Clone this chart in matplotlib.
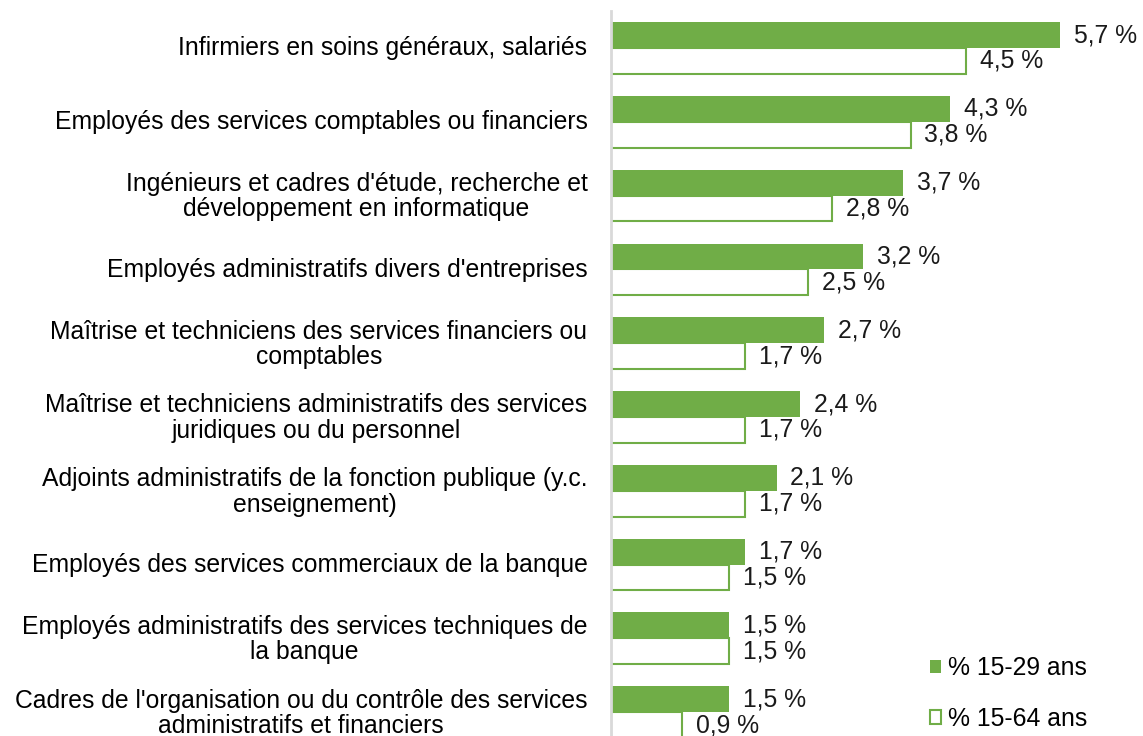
import numpy as np
import matplotlib.pyplot as plt
import matplotlib.transforms as mtransforms

plt.rcParams['font.family'] = ['Liberation Sans', 'DejaVu Sans']

categories = [
    "Infirmiers en soins généraux, salariés",
    "Employés des services comptables ou financiers",
    "Ingénieurs et cadres d'étude, recherche et\ndéveloppement en informatique",
    "Employés administratifs divers d'entreprises",
    "Maîtrise et techniciens des services financiers ou\ncomptables",
    "Maîtrise et techniciens administratifs des services\njuridiques ou du personnel",
    "Adjoints administratifs de la fonction publique (y.c.\nenseignement)",
    "Employés des services commerciaux de la banque",
    "Employés administratifs des services techniques de\nla banque",
    "Cadres de l'organisation ou du contrôle des services\nadministratifs et financiers",
]
young = [5.7, 4.3, 3.7, 3.2, 2.7, 2.4, 2.1, 1.7, 1.5, 1.5]
all_ages = [4.5, 3.8, 2.8, 2.5, 1.7, 1.7, 1.7, 1.5, 1.5, 0.9]

green = "#70AD47"
fs = 17.8

fig = plt.figure(figsize=(11.43, 7.36), dpi=100)
ax = fig.add_axes([0.5346, -0.0177, 0.462, 1.0027])

y = np.arange(len(categories))
h = 0.35
b1 = ax.barh(y - h / 2, young, height=h, color=green, label="% 15-29 ans")
b2 = ax.barh(y + h / 2, all_ages, height=h, color="white", edgecolor=green,
             linewidth=1.5, label="% 15-64 ans")

for bars, vals in ((b1, young), (b2, all_ages)):
    for bar, v in zip(bars, vals):
        ax.annotate(f"{v:.1f} %".replace(".", ","),
                    (bar.get_width(), bar.get_y() + bar.get_height() / 2),
                    xytext=(10, 0), textcoords="offset points",
                    ha="left", va="center", fontsize=fs, color="#1a1a1a")

ax.set_ylim(len(categories) - 0.5, -0.5)
ax.set_xlim(0, 6.7)
ax.set_yticks(y)
ax.set_yticklabels(categories, fontsize=fs, multialignment="center",
                   linespacing=1.07)
ax.tick_params(axis="y", length=0, pad=17)
# lift the category labels a little
shift = mtransforms.ScaledTranslation(0, 2 / 100, fig.dpi_scale_trans)
for lab in ax.get_yticklabels():
    lab.set_transform(lab.get_transform() + shift)
ax.set_xticks([])
for s in ["top", "right", "bottom"]:
    ax.spines[s].set_visible(False)
ax.spines["left"].set_color("#d9d9d9")
ax.spines["left"].set_linewidth(2)

fig.legend(loc="lower left", bbox_to_anchor=(0.7945, -0.023), frameon=False,
           fontsize=fs, handlelength=0.45, handleheight=0.45, handletextpad=0.25,
           labelspacing=1.08)

fig.savefig("out.png", dpi=100)
